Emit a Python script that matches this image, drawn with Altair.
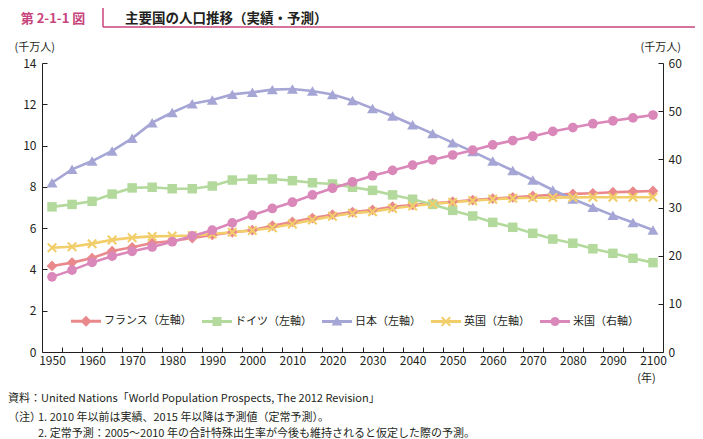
import math
import altair as alt
import pandas as pd

# ---------------- data ----------------
years = list(range(1950, 2101, 5))
countries = ["フランス", "ドイツ", "日本", "英国", "米国"]
legend_labels = ["フランス（左軸）", "ドイツ（左軸）", "日本（左軸）", "英国（左軸）", "米国（右軸）"]

france = [4.17, 4.33, 4.55, 4.89, 5.07, 5.28, 5.38, 5.52, 5.67, 5.80, 5.90, 6.12, 6.30, 6.49, 6.65, 6.78,
          6.88, 7.04, 7.12, 7.20, 7.28, 7.36, 7.43, 7.49, 7.56, 7.61, 7.66, 7.69, 7.74, 7.77, 7.80]
germany = [7.03, 7.15, 7.30, 7.65, 7.95, 7.98, 7.91, 7.91, 8.04, 8.33, 8.37, 8.38, 8.30, 8.20, 8.14, 7.98,
           7.83, 7.61, 7.40, 7.15, 6.86, 6.59, 6.28, 6.04, 5.75, 5.47, 5.27, 5.00, 4.78, 4.54, 4.33]
japan = [8.20, 8.85, 9.25, 9.74, 10.35, 11.11, 11.60, 12.03, 12.21, 12.48, 12.58, 12.71, 12.74, 12.64, 12.47, 12.18,
         11.80, 11.43, 11.01, 10.58, 10.14, 9.71, 9.25, 8.79, 8.33, 7.85, 7.41, 7.01, 6.62, 6.27, 5.91]
uk = [5.05, 5.10, 5.25, 5.43, 5.54, 5.60, 5.62, 5.64, 5.72, 5.80, 5.89, 6.02, 6.20, 6.40, 6.58, 6.72,
      6.80, 6.95, 7.07, 7.17, 7.26, 7.33, 7.40, 7.45, 7.47, 7.48, 7.49, 7.50, 7.50, 7.50, 7.50]
us = [15.6, 17.0, 18.6, 19.9, 20.9, 21.8, 22.9, 24.1, 25.3, 26.8, 28.4, 29.8, 31.1, 32.6, 34.0, 35.3,
      36.6, 37.7, 38.8, 39.9, 40.9, 41.9, 43.0, 43.9, 44.8, 45.8, 46.6, 47.4, 48.0, 48.6, 49.2]

colors = ["#E9898C", "#B3DA9C", "#A6A6D6", "#F2CE6B", "#DA87BA"]

header_num = "第 2-1-1 図"
header_title = "主要国の人口推移（実績・予測）"
note_source = "資料：United Nations「World Population Prospects, The 2012 Revision」"
note_head = "（注）"
note_1 = "1.  2010 年以前は実績、2015 年以降は予測値（定常予測）。"
note_2 = "2.  定常予測：2005～2010 年の合計特殊出生率が今後も維持されると仮定した際の予測。"

x_labels_every = 10
left_ticks = [0, 2, 4, 6, 8, 10, 12, 14]
right_ticks = [0, 10, 20, 30, 40, 50, 60]

# ---------------- table ----------------
series = {"フランス": france, "ドイツ": germany, "日本": japan, "英国": uk, "米国": us}
label_map = dict(zip(countries, legend_labels))
rows = []
for c, vals in series.items():
    for yr, v in zip(years, vals):
        rows.append({"country": label_map[c], "year": yr, "value": v})
df = pd.DataFrame(rows)
left_df = df[df["country"] != label_map["米国"]]
us_df = df[df["country"] == label_map["米国"]]

FONT = "Noto Sans CJK JP"
TXT = "#231F20"
PINK = "#C8447C"

# ---------------- encodings ----------------
boundaries = [y + 2.5 for y in years[:-1]]
decades = [y for y in years if y % x_labels_every == 0]
x_axis = alt.Axis(
    values=sorted(decades + boundaries), format="d", labelOverlap=False,
    labelExpr="datum.value % 10 == 0 ? datum.label : ''",
    tickOpacity={"condition": {"test": "datum.value % 5 != 0", "value": 1}, "value": 0},
    tickSize={"expr": "-5"}, labelPadding=8,
    title="(年)", titleAngle=0, titleX=604, titleY=26, titleAlign="center", titleBaseline="middle",
)
x_enc = alt.X("year:Q", scale=alt.Scale(domain=[1947.5, 2102.5], nice=False, zero=False), axis=x_axis)

yl_axis = alt.Axis(values=left_ticks, tickSize={"expr": "-5"}, labelPadding=11,
                   title="(千万人)", titleAngle=0, titleX=-28, titleY=-16,
                   titleAlign="left", titleBaseline="middle")
yL = alt.Y("value:Q", scale=alt.Scale(domain=[0, 14], nice=False, zero=True), axis=yl_axis)

yr_axis = alt.Axis(values=right_ticks, orient="right", tickSize={"expr": "-5"}, labelPadding=10,
                   title="(千万人)", titleAngle=0, titleX=-23, titleY=-16,
                   titleAlign="left", titleBaseline="middle")
yR = alt.Y("value:Q", scale=alt.Scale(domain=[0, 60], nice=False, zero=True), axis=yr_axis)

# same mapping, listed in different orders so these (legend-less) scales stay separate
stroke_enc = alt.Stroke("country:N", scale=alt.Scale(domain=legend_labels[::-1], range=colors[::-1]), legend=None)
fill_enc = alt.Fill("country:N", scale=alt.Scale(domain=legend_labels[1:] + legend_labels[:1],
                                                 range=colors[1:] + colors[:1]), legend=None)

# plot markers
X_PATH = "M-0.7,-1L1,0.7L0.7,1L-1,-0.7ZM0.7,-1L1,-0.7L-0.7,1L-1,0.7Z"
marker = {
    legend_labels[0]: ("diamond", 115),
    legend_labels[1]: ("square", 90),
    legend_labels[2]: ("triangle-up", 120),
    legend_labels[3]: (X_PATH, 100),
    legend_labels[4]: ("circle", 95),
}

# legend symbols: line + marker
LINE = "M-1,-0.1H1V0.1H-1Z"
circle_poly = "M" + "L".join(
    f"{0.3 * math.cos(2 * math.pi * k / 20):.3f},{0.3 * math.sin(2 * math.pi * k / 20):.3f}" for k in range(20)
) + "Z"
legend_paths = [
    LINE + "M0,-0.37L0.37,0L0,0.37L-0.37,0Z",
    LINE + "M-0.3,-0.3H0.3V0.3H-0.3Z",
    LINE + "M0,-0.36L0.36,0.27H-0.36Z",
    LINE + "M-0.233,-0.333L0.333,0.233L0.233,0.333L-0.333,-0.233ZM0.233,-0.333L0.333,-0.233L-0.233,0.333L-0.333,0.233Z",
    LINE + circle_poly,
]

legend_def = dict(
    title=None, orient="none", legendX=29, legendY=243, direction="horizontal",
    symbolSize=900, symbolStrokeWidth=0, labelOffset=3, columnPadding=10,
    labelFont=FONT, labelFontSize=11, labelColor=TXT, labelLimit=200, padding=0,
)

# ---------------- layers ----------------
left_lines = alt.Chart(left_df).mark_line(strokeWidth=2.6).encode(x=x_enc, y=yL, stroke=stroke_enc)
left_points = [
    alt.Chart(left_df).transform_filter(alt.datum.country == c)
    .mark_point(shape=marker[c][0], size=marker[c][1], filled=True, opacity=1, strokeWidth=0)
    .encode(x=x_enc, y=yL, fill=fill_enc)
    for c in legend_labels[:4]
]
legend_layer = (
    alt.Chart(df).transform_filter("datum.year < 0")
    .mark_point(filled=True, opacity=1)
    .encode(
        x=x_enc, y=yL,
        color=alt.Color("country:N", scale=alt.Scale(domain=legend_labels, range=colors),
                        legend=alt.Legend(**legend_def)),
        shape=alt.Shape("country:N", scale=alt.Scale(domain=legend_labels, range=legend_paths),
                        legend=alt.Legend(**legend_def)),
    )
)

def text_layer(t, x, y, size=11, weight="normal", color=TXT, align="left"):
    return alt.Chart(pd.DataFrame({"t": [t]})).mark_text(
        font=FONT, fontSize=size, fontWeight=weight, color=color, align=align, baseline="middle"
    ).encode(text="t:N", x=alt.value(x), y=alt.value(y))

header_v = alt.Chart(pd.DataFrame({"a": [0]})).mark_rule(color=PINK, strokeWidth=1.5).encode(
    x=alt.value(61), y=alt.value(-70), y2=alt.value(-36))
header_h = alt.Chart(pd.DataFrame({"a": [0]})).mark_rule(color=PINK, strokeWidth=1.5).encode(
    x=alt.value(61), x2=alt.value(660), y=alt.value(-36))

annotations = [
    header_v, header_h,
    text_layer(header_num, 11, -44, size=13, weight="bold", color=PINK, align="center"),
    text_layer(header_title, 83, -44, size=13.5, weight="bold"),
    text_layer(note_source, -34, 336),
    text_layer(note_head, -34, 355),
    text_layer(note_1, -4, 355),
    text_layer(note_2, -4, 371),
]

left_group = alt.layer(left_lines, *left_points, legend_layer, *annotations)

us_line = alt.Chart(us_df).mark_line(strokeWidth=2.6).encode(x=x_enc, y=yR, stroke=stroke_enc)
us_points = alt.Chart(us_df).mark_point(shape="circle", size=95, filled=True, opacity=1, strokeWidth=0).encode(
    x=x_enc, y=yR, fill=fill_enc)
right_group = alt.layer(us_line, us_points)

chart = (
    alt.layer(left_group, right_group)
    .resolve_scale(y="independent")
    .properties(
        width=621, height=289,
        padding={"left": 34, "top": 55, "right": 32, "bottom": 90},
        autosize=alt.AutoSizeParams(type="none"),
        background="white",
    )
    .configure_view(stroke=None)
    .configure_axis(
        labelFont=FONT, labelFontSize=12, labelColor=TXT,
        titleFont=FONT, titleFontSize=11, titleFontWeight="normal", titleColor=TXT,
        domainColor=TXT, domainWidth=1, tickColor=TXT, tickWidth=1, grid=False,
    )
)

chart.save("out.html", embed_options={"renderer": "svg", "actions": False})
